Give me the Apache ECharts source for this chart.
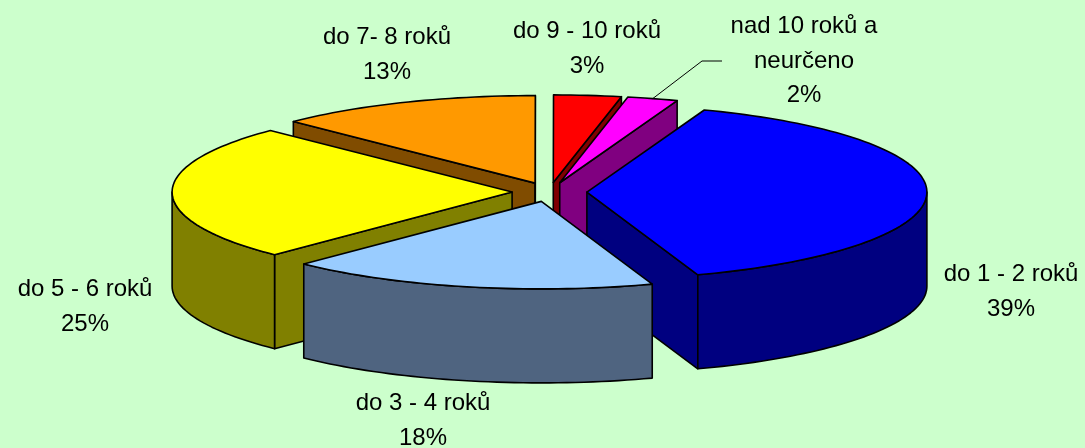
<!DOCTYPE html>
<html><head><meta charset="utf-8">
<style>html,body{margin:0;padding:0;background:#CCFFCC}#c{width:1085px;height:448px}</style>
<script src="https://cdn.jsdelivr.net/npm/echarts@6/dist/echarts.min.js"></script>
</head><body><div id="c"></div>
<script>
const categories = ['do 1 - 2 roků','do 3 - 4 roků','do 5 - 6 roků','do 7- 8 roků','do 9 - 10 roků','nad 10 roků a\nneurčeno'];
const shares = [39.1,17.6,25.1,12.6,3.2,2.4];
const topColors = ['#0000FF','#99CCFF','#FFFF00','#FF9900','#FF0000','#FF00FF'];
const wallColors = ['#000080','#4F6480','#808000','#804C00','#800000','#800080'];
const labelCenters = [[1011,292],[423,421],[85,307],[387,55],[587,49],[804,61]];
const firstAngle = 20.2, cx = 549.5, cy = 192, rx = 340, ry = 87.5, depth = 94, explode = 0.11;

const total = shares.reduce((a,b)=>a+b,0);
let acc = firstAngle;
const slices = shares.map((v,i)=>{const a=acc,b=acc+v/total*360;acc=b;return {i,a,b,m:(a+b)/2};});
const drawOrder = slices.slice().sort((p,q)=>Math.cos(q.m*Math.PI/180)-Math.cos(p.m*Math.PI/180)).map(s=>s.i);
const stroke = {stroke:'#000',lineWidth:1.6,lineJoin:'round'};
function render(params, api){
  const s = slices[api.value(0)];
  const rad = d=>d*Math.PI/180;
  const ax = cx+explode*rx*Math.sin(rad(s.m)), ay = cy-explode*ry*Math.cos(rad(s.m));
  const pt = d=>[ax+rx*Math.sin(rad(d)), ay-ry*Math.cos(rad(d))];
  const arc = (a,b)=>{const o=[],n=Math.max(2,Math.ceil((b-a)/1.5));for(let k=0;k<=n;k++)o.push(pt(a+(b-a)*k/n));return o;};
  const down = p=>[p[0],p[1]+depth];
  const poly = (points,fill)=>({type:'polygon',shape:{points},style:Object.assign({fill},stroke)});
  const kids = [];
  const wall = wallColors[s.i];
  const sa = Math.sin(rad(s.a)), sb = Math.sin(rad(s.b));
  if (sa<0){const p=pt(s.a);kids.push(poly([[ax,ay],p,down(p),[ax,ay+depth]],wall));}
  if (sb>0){const p=pt(s.b);kids.push(poly([[ax,ay],p,down(p),[ax,ay+depth]],wall));}
  const lo = Math.max(s.a,90), hi = Math.min(s.b,270);
  if (hi>lo){const t=arc(lo,hi);kids.push(poly(t.concat(t.map(down).reverse()),wall));}
  kids.push(poly([[ax,ay]].concat(arc(s.a,s.b)),topColors[s.i]));
  return {type:'group',children:kids};
}
function renderLabels(params, api){
  const i = api.value(0), c = labelCenters[i];
  const kids = [{type:'text',x:c[0],y:c[1],style:{text:categories[i]+'\n'+Math.round(shares[i])+'%',align:'center',verticalAlign:'middle',
    font:'24px "Liberation Sans", Arial, sans-serif',lineHeight:34.5,fill:'#000'}}];
  if (i===5){
    const s = slices[i], rad = d=>d*Math.PI/180;
    const x0 = cx+explode*rx*Math.sin(rad(s.m))+rx*Math.sin(rad(s.m));
    const y0 = cy-(1+explode)*ry*Math.cos(rad(s.m));
    kids.push({type:'polyline',shape:{points:[[x0,y0],[702,61],[722,61]]},style:{stroke:'#000',lineWidth:1,fill:null}});
  }
  return {type:'group',children:kids};
}
const chart = echarts.init(document.getElementById('c'),null,{renderer:'canvas'});
chart.setOption({
  backgroundColor:'#CCFFCC',animation:false,
  series:[
    {type:'custom',coordinateSystem:'none',renderItem:render,data:drawOrder.map(i=>[i]),z:1,silent:true},
    {type:'custom',coordinateSystem:'none',renderItem:renderLabels,data:categories.map((c,i)=>[i]),z:2,silent:true}
  ]
});
</script></body></html>
